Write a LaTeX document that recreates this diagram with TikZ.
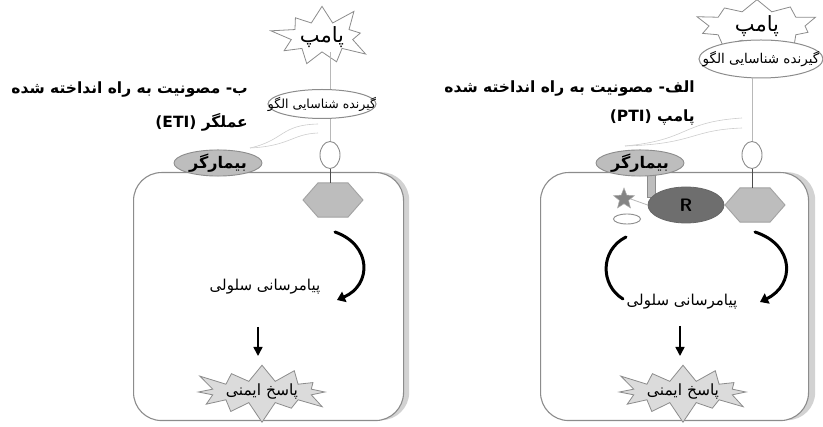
\documentclass[tikz,border=0pt]{standalone}
\usepackage{fontspec}
\usetikzlibrary{shapes.geometric,shapes.symbols,arrows.meta}
\newfontfamily\fafont[Script=Arabic]{DejaVu Sans}
\TeXXeTstate=1
\newcommand{\FA}[1]{{\fafont\beginR #1\endR}}
\definecolor{bordgray}{HTML}{8C8C8C}
\definecolor{lightline}{HTML}{B8B8B8}
\definecolor{shadowgray}{HTML}{D2D2D2}
\definecolor{midgray}{HTML}{BDBDBD}
\definecolor{rgray}{HTML}{6E6E6E}
\begin{document}
\begin{tikzpicture}[x=1pt,y=-1pt,
  cellbox/.style={draw=bordgray, line width=1.1pt, rounded corners=28pt, fill=white, minimum width=270pt, minimum height=248pt, anchor=north west, inner sep=0pt},
  shadowbox/.style={fill=shadowgray, rounded corners=28pt, minimum width=270pt, minimum height=248pt, anchor=north west, inner sep=0pt},
  burst/.style={starburst, draw=bordgray, line width=0.8pt, fill=white, starburst points=10, starburst point height=20pt, inner sep=0pt},
  thinline/.style={draw=lightline, line width=0.7pt},
  faintcurve/.style={draw=lightline!70, line width=0.6pt},
  recep/.style={ellipse, draw=bordgray, line width=1pt, fill=white, inner sep=0pt},
  smallov/.style={ellipse, draw=bordgray, line width=0.9pt, fill=white, minimum width=20pt, minimum height=27pt, inner sep=0pt},
  hexa/.style={regular polygon, regular polygon sides=6, draw=bordgray!80, line width=0.9pt, fill=midgray, minimum size=60pt, inner sep=0pt, yscale=0.66, transform shape},
  patho/.style={ellipse, draw=bordgray, line width=0.9pt, fill=midgray, minimum width=88pt, minimum height=24pt, inner sep=0pt},
  bigarc/.style={line width=3pt, line cap=round},
  arrowhd/.style={-{Triangle[width=11pt,length=8pt]}},
  downarr/.style={line width=1.6pt, -{Triangle[width=9pt,length=9pt]}},
  title/.style={anchor=east, inner sep=0pt, font=\fontsize{15.5}{18}\selectfont}
]
\useasboundingbox (0,0) rectangle (823,427);

% ================= LEFT PANEL (ETI) =================
\node[shadowbox] (shL) at (139,172) {};
\node[cellbox] (cellL) at (133,172) {};

\node[burst, minimum width=98pt, minimum height=64pt, starburst points=9, starburst point height=22pt] (pampL) at (322,37) {\FA{\fontsize{21}{24}\selectfont پامپ}};
\node[recep, minimum width=108pt, minimum height=29pt] (ellL) at (322,104) {};
\node[inner sep=0pt] (ellLt) at (ellL.center) {\FA{\fontsize{12.5}{14}\selectfont گیرنده شناسایی الگو}};
\node[smallov] (smL) at (330,155) {};
\node[hexa] (hexL) at (333,200) {};
\node[patho] (patL) at (218,163) {\FA{\bfseries\fontsize{16}{18}\selectfont بیمارگر}};

\draw[thinline] (smL |- pampL.south) -- (smL |- ellL.north);
\draw[thinline] (smL |- ellL.south) -- (smL.north);
\draw[line width=0.8pt, draw=black!70] (smL.south) -- (smL |- hexL.north);

\coordinate (fcL1) at (250,148);
\coordinate (fcL2) at (318,124);
\coordinate (fcL3) at (318,133);
\draw[faintcurve] (fcL1) .. controls (285,140) and (280,125) .. (fcL2);
\draw[faintcurve] (fcL1) .. controls (290,146) and (292,134) .. (fcL3);

\node[title] (tL1) at (248,90) {\FA{\bfseries ب- مصونیت به راه انداخته شده}};
\node[title] (tL2) at (248,122) {\FA{\bfseries عملگر \beginL(ETI)\endL}};

\coordinate (aL1) at (335,232);
\coordinate (aL2) at (337,300);
\draw[bigarc, arrowhd] (aL1) .. controls (372,245) and (372,285) .. (aL2);

\node[inner sep=0pt] (sigL) at (265,287) {\FA{\fontsize{15}{17}\selectfont پیامرسانی سلولی}};
\coordinate (dL1) at (258,327);
\coordinate (dL2) at (258,356);
\draw[downarr] (dL1) -- (dL2);

\node[burst, fill=shadowgray!80, minimum width=100pt, minimum height=60pt, starburst points=12, starburst point height=22pt] (respL) at (262,392) {\FA{\fontsize{15.5}{17}\selectfont پاسخ ایمنی}};

% ================= RIGHT PANEL (PTI) =================
\node[shadowbox] (shR) at (545,172) {};
\node[cellbox, minimum width=268pt] (cellR) at (540,172) {};

\node[burst, minimum width=128pt, minimum height=48pt, starburst points=10, starburst point height=16pt] (pampR) at (757,26) {\FA{\fontsize{21}{24}\selectfont پامپ}};
\node[recep, minimum width=124pt, minimum height=38pt] (ellR) at (761,59) {};
\node[inner sep=0pt] (ellRt) at (ellR.center) {\FA{\fontsize{13.5}{15}\selectfont گیرنده شناسایی الگو}};
\node[smallov] (smR) at (752,155) {};
\node[hexa] (hexR) at (755,205) {};

\node[draw=bordgray, fill=midgray, line width=0.8pt, minimum width=8pt, minimum height=26pt, inner sep=0pt] (conR) at (651,184) {};
\node[patho] (patR) at (640,163) {\FA{\bfseries\fontsize{16}{18}\selectfont بیمارگر}};
\node[ellipse, draw=black!60, fill=rgray, line width=0.8pt, minimum width=76pt, minimum height=36pt, inner sep=0pt] (RR) at (686,205) {\sffamily\bfseries\fontsize{18}{20}\selectfont R};
\node[star, star points=5, star point ratio=2.3, draw=bordgray!70, fill=rgray!85, line width=0.5pt, minimum size=22pt, inner sep=0pt] (stR) at (624,199) {};
\draw[draw=lightline, line width=0.8pt] (stR.east) -- (RR.west);
\node[ellipse, draw=bordgray, line width=0.9pt, fill=white, minimum width=27pt, minimum height=10pt, inner sep=0pt] (ovR) at (627,219) {};

\draw[thinline] (smR |- ellR.south) -- (smR.north);
\draw[line width=0.8pt, draw=black!70] (smR.south) -- (smR |- hexR.north);

\coordinate (fcR1) at (625,146);
\coordinate (fcR2) at (742,118);
\coordinate (fcR3) at (742,128);
\draw[faintcurve] (fcR1) .. controls (690,140) and (680,122) .. (fcR2);
\draw[faintcurve] (fcR1) .. controls (695,144) and (690,130) .. (fcR3);

\node[title] (tR1) at (695,89) {\FA{\bfseries الف- مصونیت به راه انداخته شده}};
\node[title] (tR2) at (695,118) {\FA{\bfseries پامپ \beginL(PTI)\endL}};

\coordinate (bR1) at (626,237);
\coordinate (bR2) at (623,299);
\draw[bigarc] (bR1) .. controls (600,250) and (600,285) .. (bR2);
\coordinate (aR1) at (755,232);
\coordinate (aR2) at (760,302);
\draw[bigarc, arrowhd] (aR1) .. controls (795,245) and (795,285) .. (aR2);

\node[inner sep=0pt] (sigR) at (682,302) {\FA{\fontsize{15}{17}\selectfont پیامرسانی سلولی}};
\coordinate (dR1) at (680,326);
\coordinate (dR2) at (680,356);
\draw[downarr] (dR1) -- (dR2);

\node[burst, fill=shadowgray!80, minimum width=104pt, minimum height=60pt, starburst points=12, starburst point height=22pt] (respR) at (683,392) {\FA{\fontsize{15.5}{17}\selectfont پاسخ ایمنی}};
\end{tikzpicture}
\end{document}
